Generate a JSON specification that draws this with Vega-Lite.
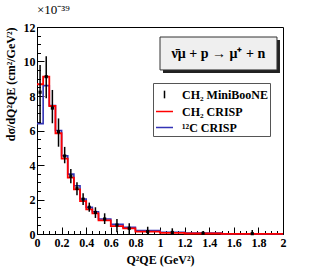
{
  "$schema": "https://vega.github.io/schema/vega-lite/v6.json",
  "width": 246,
  "height": 207,
  "autosize": {"type": "none"},
  "padding": {"left": 37, "top": 27, "right": 32, "bottom": 42},
  "background": "white",
  "config": {
    "view": {"stroke": "black", "strokeWidth": 1},
    "font": "Liberation Serif",
    "axis": {
      "grid": false,
      "domainColor": "black",
      "tickColor": "black",
      "labelFont": "Liberation Serif",
      "labelFontWeight": "bold",
      "labelFontSize": 12,
      "labelColor": "black",
      "labelFlush": false,
      "labelOverlap": false,
      "labelBound": false,
      "titleFont": "Liberation Serif",
      "titleFontWeight": "bold",
      "titleFontSize": 12,
      "titleColor": "black"
    }
  },
  "title": {"text": "×10⁻³⁹", "anchor": "start", "frame": "group", "font": "Liberation Serif", "fontSize": 13, "fontWeight": "normal", "color": "black", "offset": 4},
  "resolve": {"axis": {"x": "independent", "y": "independent"}},
  "datasets": {
    "hist": [
      {"series": "¹²C CRISP", "q2": 0, "v": 6.4},
      {"series": "¹²C CRISP", "q2": 0.05, "v": 8.6},
      {"series": "¹²C CRISP", "q2": 0.1, "v": 7.45},
      {"series": "¹²C CRISP", "q2": 0.15, "v": 6.0},
      {"series": "¹²C CRISP", "q2": 0.2, "v": 4.54},
      {"series": "¹²C CRISP", "q2": 0.25, "v": 3.47},
      {"series": "¹²C CRISP", "q2": 0.3, "v": 2.8},
      {"series": "¹²C CRISP", "q2": 0.35, "v": 2.03},
      {"series": "¹²C CRISP", "q2": 0.4, "v": 1.55},
      {"series": "¹²C CRISP", "q2": 0.45, "v": 1.29},
      {"series": "¹²C CRISP", "q2": 0.5, "v": 0.87},
      {"series": "¹²C CRISP", "q2": 0.6, "v": 0.56},
      {"series": "¹²C CRISP", "q2": 0.7, "v": 0.39},
      {"series": "¹²C CRISP", "q2": 0.8, "v": 0.2},
      {"series": "¹²C CRISP", "q2": 1.0, "v": 0.1},
      {"series": "¹²C CRISP", "q2": 1.2, "v": 0.05},
      {"series": "¹²C CRISP", "q2": 1.5, "v": 0.01},
      {"series": "¹²C CRISP", "q2": 2.0, "v": 0.01},
      {"series": "CH₂ CRISP", "q2": 0, "v": 8.68},
      {"series": "CH₂ CRISP", "q2": 0.05, "v": 9.12},
      {"series": "CH₂ CRISP", "q2": 0.1, "v": 7.42},
      {"series": "CH₂ CRISP", "q2": 0.15, "v": 5.84},
      {"series": "CH₂ CRISP", "q2": 0.2, "v": 4.37},
      {"series": "CH₂ CRISP", "q2": 0.25, "v": 3.27},
      {"series": "CH₂ CRISP", "q2": 0.3, "v": 2.59},
      {"series": "CH₂ CRISP", "q2": 0.35, "v": 1.91},
      {"series": "CH₂ CRISP", "q2": 0.4, "v": 1.43},
      {"series": "CH₂ CRISP", "q2": 0.45, "v": 1.2},
      {"series": "CH₂ CRISP", "q2": 0.5, "v": 0.79},
      {"series": "CH₂ CRISP", "q2": 0.6, "v": 0.46},
      {"series": "CH₂ CRISP", "q2": 0.7, "v": 0.33},
      {"series": "CH₂ CRISP", "q2": 0.8, "v": 0.14},
      {"series": "CH₂ CRISP", "q2": 1.0, "v": 0.07},
      {"series": "CH₂ CRISP", "q2": 1.2, "v": 0.03},
      {"series": "CH₂ CRISP", "q2": 1.5, "v": 0.01},
      {"series": "CH₂ CRISP", "q2": 2.0, "v": 0.01}
    ],
    "pts": [
      {"series": "CH₂ MiniBooNE", "q2": 0.025, "v": 8.22, "lo": 6.42, "hi": 9.8},
      {"series": "CH₂ MiniBooNE", "q2": 0.075, "v": 9.12, "lo": 7.87, "hi": 10.3},
      {"series": "CH₂ MiniBooNE", "q2": 0.125, "v": 7.3, "lo": 6.42, "hi": 8.35},
      {"series": "CH₂ MiniBooNE", "q2": 0.175, "v": 5.93, "lo": 5.06, "hi": 6.7},
      {"series": "CH₂ MiniBooNE", "q2": 0.225, "v": 4.52, "lo": 4.1, "hi": 5.05},
      {"series": "CH₂ MiniBooNE", "q2": 0.275, "v": 3.35, "lo": 2.94, "hi": 3.77},
      {"series": "CH₂ MiniBooNE", "q2": 0.325, "v": 2.65, "lo": 2.25, "hi": 3.0},
      {"series": "CH₂ MiniBooNE", "q2": 0.375, "v": 2.02, "lo": 1.68, "hi": 2.36},
      {"series": "CH₂ MiniBooNE", "q2": 0.425, "v": 1.55, "lo": 1.29, "hi": 1.82},
      {"series": "CH₂ MiniBooNE", "q2": 0.475, "v": 1.25, "lo": 0.93, "hi": 1.55},
      {"series": "CH₂ MiniBooNE", "q2": 0.55, "v": 0.87, "lo": 0.58, "hi": 1.2},
      {"series": "CH₂ MiniBooNE", "q2": 0.65, "v": 0.52, "lo": 0.1, "hi": 0.87},
      {"series": "CH₂ MiniBooNE", "q2": 0.75, "v": 0.33, "lo": 0.0, "hi": 0.62},
      {"series": "CH₂ MiniBooNE", "q2": 0.9, "v": 0.14, "lo": 0.0, "hi": 0.42},
      {"series": "CH₂ MiniBooNE", "q2": 1.1, "v": 0.09, "lo": 0.0, "hi": 0.33},
      {"series": "CH₂ MiniBooNE", "q2": 1.35, "v": 0.04, "lo": 0.0, "hi": 0.17},
      {"series": "CH₂ MiniBooNE", "q2": 1.75, "v": 0.02, "lo": 0.0, "hi": 0.23}
    ]
  },
  "layer": [
    {
      "data": {"values": [{"label": "ν̄μ + p  →  μ⁺ + n"}]},
      "mark": {"type": "rect", "fill": "#222222", "xOffset": 3, "x2Offset": 3, "yOffset": 3, "y2Offset": 3},
      "encoding": {
        "x": {"datum": 1.0, "type": "quantitative", "scale": {"domain": [0, 2], "nice": false},
          "axis": {
            "orient": "bottom",
            "values": [0,0.2,0.4,0.6,0.8,1,1.2,1.4,1.6,1.8,2],
            "format": "~g",
            "tickSize": -7,
            "labelPadding": 10,
            "labelOverlap": false,
            "title": "Q²QE (GeV²)",
            "titlePadding": 6
          }
        },
        "x2": {"datum": 1.951},
        "y": {"datum": 11.42, "type": "quantitative", "scale": {"domain": [0, 12], "nice": false},
          "axis": {
            "orient": "left",
            "values": [0,2,4,6,8,10,12],
            "format": "d",
            "tickSize": -7,
            "labelPadding": 9,
            "labelOverlap": false,
            "title": "dσ/dQ²QE (cm²/GeV²)",
            "titleAnchor": "end",
            "titlePadding": 6
          }
        },
        "y2": {"datum": 9.51}
      }
    },
    {
      "data": {"values": [{"label": "ν̄μ + p  →  μ⁺ + n"}]},
      "mark": {"type": "rect", "fill": "#efefef", "stroke": "#333333", "strokeWidth": 1},
      "encoding": {
        "x": {"datum": 1.0, "type": "quantitative",
          "axis": {
            "orient": "bottom",
            "values": [0.05,0.1,0.15,0.25,0.3,0.35,0.45,0.5,0.55,0.65,0.7,0.75,0.85,0.9,0.95,1.05,1.1,1.15,1.25,1.3,1.35,1.45,1.5,1.55,1.65,1.7,1.75,1.85,1.9,1.95],
            "tickSize": -3.5,
            "labels": false,
            "domain": false,
            "title": null
          }
        },
        "x2": {"datum": 1.951},
        "y": {"datum": 11.42, "type": "quantitative",
          "axis": {
            "orient": "left",
            "values": [0.5,1,1.5,2.5,3,3.5,4.5,5,5.5,6.5,7,7.5,8.5,9,9.5,10.5,11,11.5],
            "tickSize": -3.5,
            "labels": false,
            "domain": false,
            "title": null
          }
        },
        "y2": {"datum": 9.51}
      }
    },
    {
      "data": {"values": [{"label": "ν̄μ + p  →  μ⁺ + n"}]},
      "mark": {"type": "text", "font": "Liberation Serif", "fontWeight": "bold", "fontSize": 14, "color": "black", "align": "center", "baseline": "middle"},
      "encoding": {
        "x": {"datum": 1.475, "type": "quantitative", "axis": null},
        "y": {"datum": 10.45, "type": "quantitative", "axis": null},
        "text": {"field": "label"}
      }
    },
    {
      "data": {"name": "hist"},
      "transform": [{"filter": "datum.series == '¹²C CRISP'"}],
      "mark": {"type": "line", "interpolate": "step-after", "strokeWidth": 1.6},
      "encoding": {
        "x": {"field": "q2", "type": "quantitative", "axis": null},
        "y": {"field": "v", "type": "quantitative", "axis": null},
        "color": {"field": "series", "type": "nominal",
          "scale": {"domain": ["CH₂ MiniBooNE", "CH₂ CRISP", "¹²C CRISP"], "range": ["black", "#ff0000", "#3333b5"]},
          "legend": {
            "orient": "none", "legendX": 116, "legendY": 56, "title": null,
            "strokeColor": "#555555", "fillColor": "white", "padding": 2,
            "labelFont": "Liberation Serif", "labelFontWeight": "bold", "labelFontSize": 12, "labelColor": "black",
            "symbolType": "stroke", "symbolSize": 289, "symbolStrokeWidth": 1.5, "rowPadding": 0, "labelOffset": 8,
            "encode": {"symbols": {"update": {"shape": {"signal": "datum.value == 'CH₂ MiniBooNE' ? 'M0,-0.45L0,0.45' : 'stroke'"}}}}
          }
        }
      }
    },
    {
      "data": {"name": "hist"},
      "transform": [{"filter": "datum.series == 'CH₂ CRISP'"}],
      "mark": {"type": "line", "interpolate": "step-after", "strokeWidth": 1.8},
      "encoding": {
        "x": {"field": "q2", "type": "quantitative", "axis": null},
        "y": {"field": "v", "type": "quantitative", "axis": null},
        "color": {"field": "series", "type": "nominal"}
      }
    },
    {
      "data": {"name": "pts"},
      "mark": {"type": "rule", "strokeWidth": 1.5},
      "encoding": {
        "x": {"field": "q2", "type": "quantitative", "axis": null},
        "y": {"field": "lo", "type": "quantitative", "axis": null},
        "y2": {"field": "hi"},
        "color": {"field": "series", "type": "nominal"}
      }
    },
    {
      "data": {"name": "pts"},
      "mark": {"type": "point", "shape": "square", "filled": true, "size": 10, "opacity": 1},
      "encoding": {
        "x": {"field": "q2", "type": "quantitative", "axis": null},
        "y": {"field": "v", "type": "quantitative", "axis": null},
        "color": {"field": "series", "type": "nominal"}
      }
    }
  ]
}
